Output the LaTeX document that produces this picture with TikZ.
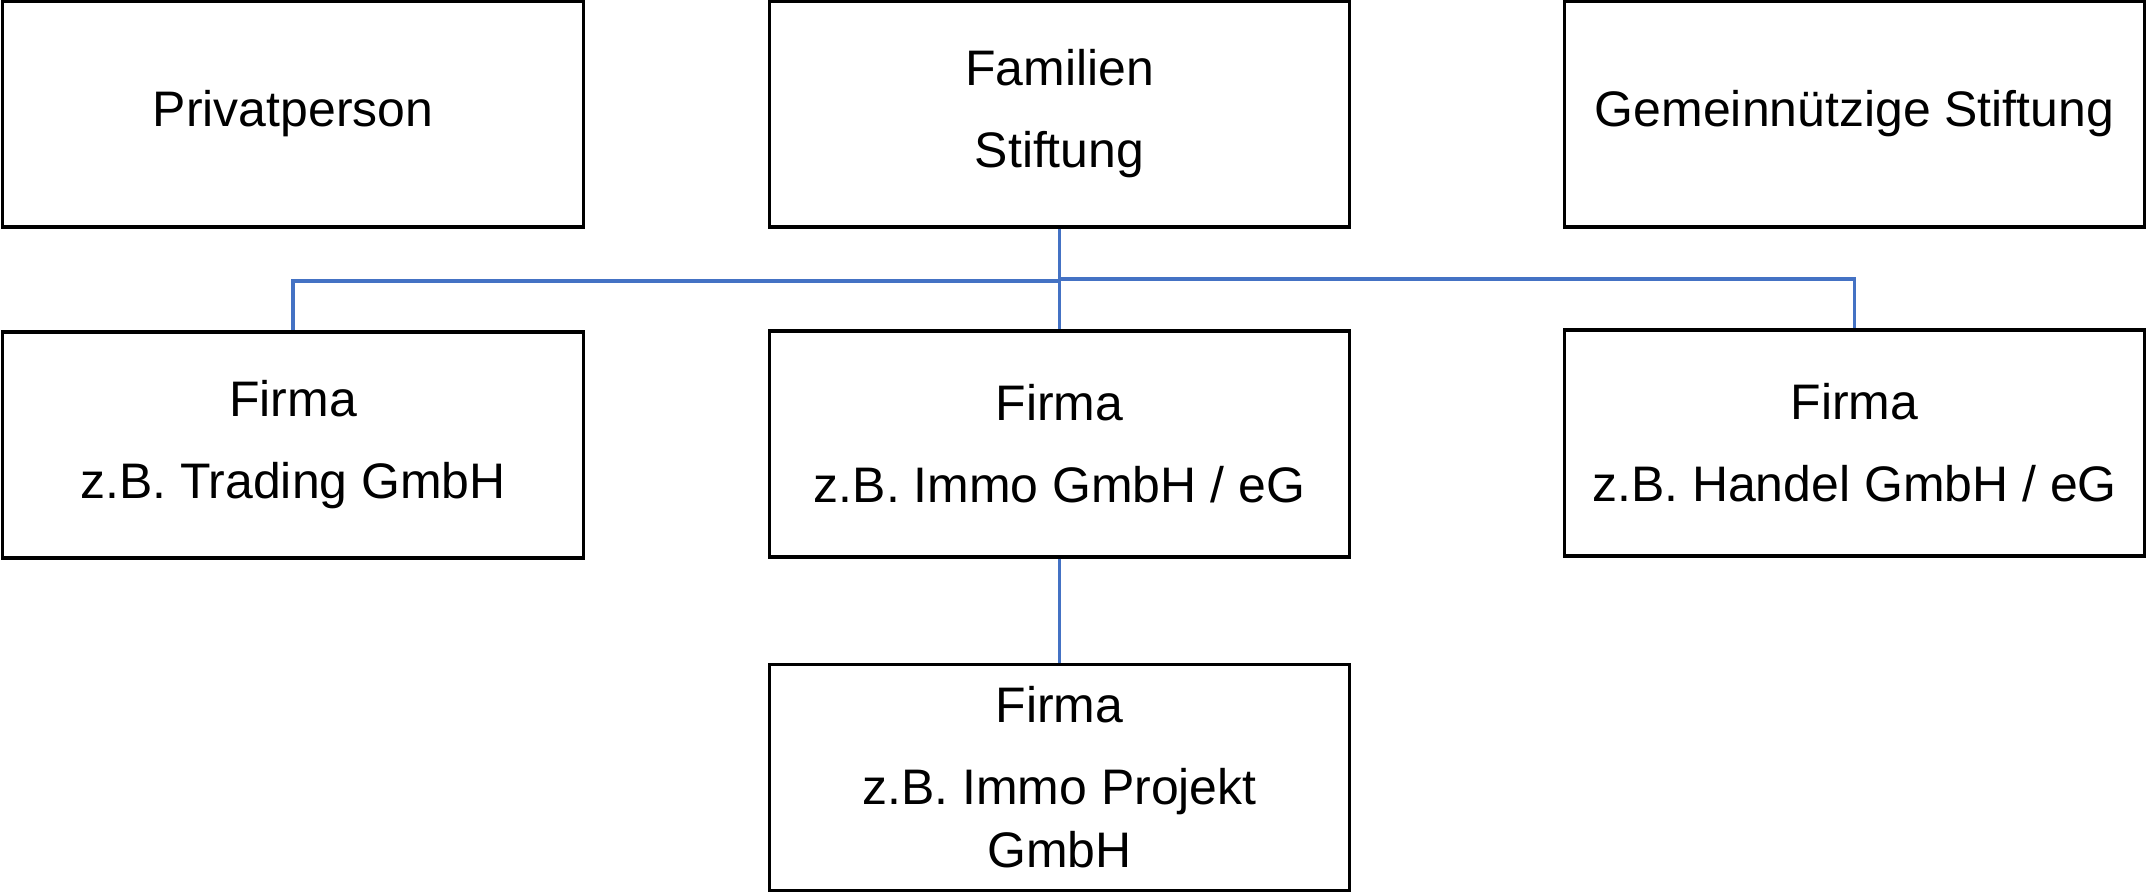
\documentclass[tikz,border=0pt]{standalone}
\usepackage{fontspec}
\setmainfont{Liberation Sans}
\definecolor{connblue}{HTML}{4472C4}
\begin{document}
\begin{tikzpicture}[x=0.01cm,y=-0.01cm,
  box/.style={draw=black,line width=0.9pt,rectangle,minimum width=5.8cm,minimum height=2.26cm,
    align=center,inner sep=0pt,font=\fontsize{14.2}{17.9}\selectfont},
  conn/.style={draw=connblue,line width=0.9pt}]
\useasboundingbox (0,0) rectangle (2147,892);
\node[box] (priv) at (293,114) {Privatperson};
\node[box] (fam) at (1059.5,114) {Familien\\[5.4pt]Stiftung};
\node[box] (gem) at (1854.5,114) {Gemeinnützige Stiftung};
\node[box] (trad) at (293,445) {Firma\\[5.4pt]z.B. Trading GmbH};
\node[box] (immo) at (1059.5,444) {Firma\\[5.4pt]z.B. Immo GmbH / eG};
\node[box] (handel) at (1854.5,443) {Firma\\[5.4pt]z.B. Handel GmbH / eG};
\node[box] (proj) at (1059.5,777.5) {Firma\\[5.4pt]z.B. Immo Projekt\\GmbH};
\coordinate (jl) at (1059.5,281);
\coordinate (jr) at (1059.5,279);
\draw[conn] (fam.south) -- (immo.north);
\draw[conn] (jl) -| (trad.north);
\draw[conn] (jr) -| (handel.north);
\draw[conn] (immo.south) -- (proj.north);
\end{tikzpicture}
\end{document}
